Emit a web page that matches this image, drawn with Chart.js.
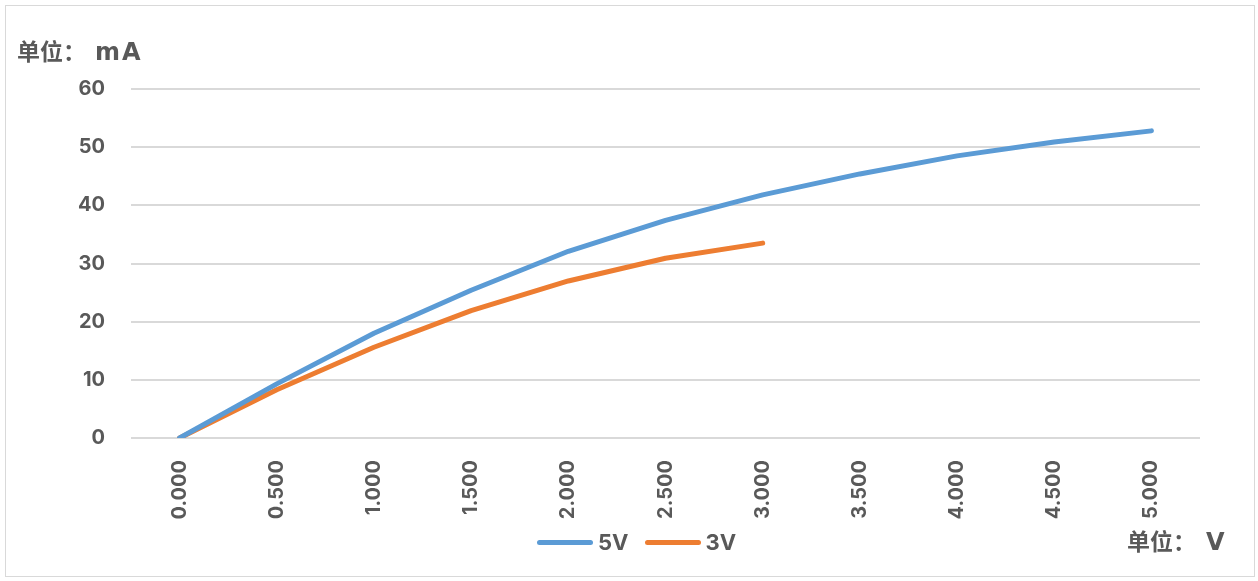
<!DOCTYPE html>
<html>
<head>
<meta charset="utf-8">
<script src="https://cdn.jsdelivr.net/npm/chart.js@4.4.1/dist/chart.umd.min.js"></script>
<style>
  body { margin: 0; background: #fff; }
  #wrap { position: relative; width: 1258px; height: 581px; font-family: Inter, "Noto Sans CJK SC", sans-serif; color: #595959; font-weight: bold; }
  #frame { position: absolute; left: 5px; top: 5px; width: 1250px; height: 572px; border: 1px solid #d9d9d9; box-sizing: border-box; }
  .unit { position: absolute; line-height: 26px; white-space: nowrap; display: flex; align-items: baseline; }
  .unit .cn { font-family: "Noto Sans CJK SC", sans-serif; font-size: 23px; font-weight: 700; }
  .unit .en { font-family: "DejaVu Sans", sans-serif; font-size: 24px; margin-left: 9px; letter-spacing: 2px; }
  #legend { position: absolute; top: 530px; left: 537px; display: flex; align-items: center; font-size: 22px; line-height: 24px; }
  #legend .item { display: flex; align-items: center; margin-right: 16px; }
  #legend .swatch { width: 56px; height: 5px; border-radius: 3px; margin-right: 5px; }
</style>
</head>
<body>
<div id="wrap">
  <div id="frame"></div>
  <canvas id="chart" width="1258" height="581"></canvas>
  <div class="unit" id="yUnit" style="left:17px; top:37px;"><span class="cn"></span><span class="en"></span></div>
  <div class="unit" id="xUnit" style="left:1127px; top:527px;"><span class="cn"></span><span class="en" style="margin-left:10px"></span></div>
  <div id="legend"></div>
</div>
<script>
let voltages = ["0.000", "0.500", "1.000", "1.500", "2.000", "2.500", "3.000", "3.500", "4.000", "4.500", "5.000"];
let current5V = [0, 9.3, 18.0, 25.4, 32.1, 37.4, 41.8, 45.4, 48.5, 50.9, 52.8];
let current3V = [0, 8.3, 15.6, 21.9, 27.0, 30.9, 33.5];
let yTicks = [0, 10, 20, 30, 40, 50, 60];
let seriesNames = ["5V", "3V"];
let seriesColors = ["#5b9bd5", "#ed7d31"];
let unitPrefix = "单位：";
let yUnit = "mA";
let xUnit = "V";

document.querySelector("#yUnit .cn").textContent = unitPrefix;
document.querySelector("#yUnit .en").textContent = yUnit;
document.querySelector("#xUnit .cn").textContent = unitPrefix;
document.querySelector("#xUnit .en").textContent = xUnit;

// legend built from the series
let legend = document.getElementById("legend");
seriesNames.forEach(function (name, i) {
  let item = document.createElement("div");
  item.className = "item";
  let sw = document.createElement("div");
  sw.className = "swatch";
  sw.style.background = seriesColors[i];
  let label = document.createElement("span");
  label.textContent = name;
  item.appendChild(sw);
  item.appendChild(label);
  legend.appendChild(item);
});

let tickFont = { family: 'Inter, "Noto Sans", sans-serif', size: 20, weight: "bold" };

new Chart(document.getElementById("chart"), {
  type: "line",
  data: {
    labels: voltages,
    datasets: [
      {
        label: seriesNames[0],
        data: current5V,
        borderColor: seriesColors[0],
        backgroundColor: seriesColors[0],
        borderWidth: 5,
        pointRadius: 0,
        borderCapStyle: "round",
        borderJoinStyle: "round",
        fill: false,
      },
      {
        label: seriesNames[1],
        data: current3V,
        borderColor: seriesColors[1],
        backgroundColor: seriesColors[1],
        borderWidth: 5,
        pointRadius: 0,
        borderCapStyle: "round",
        borderJoinStyle: "round",
        fill: false,
      },
    ],
  },
  options: {
    responsive: false,
    animation: false,
    layout: { padding: { top: 89, right: 58, left: 0, bottom: 0 } },
    plugins: {
      legend: { display: false },
      tooltip: { enabled: false },
    },
    scales: {
      x: {
        offset: true,
        grid: { display: false, drawTicks: false },
        border: { display: false },
        ticks: { color: "#595959", font: tickFont, minRotation: 90, maxRotation: 90, padding: 22, autoSkip: false },
        afterFit: function (scale) { scale.height = 143; },
      },
      y: {
        min: yTicks[0],
        max: yTicks[yTicks.length - 1],
        afterBuildTicks: function (scale) {
          scale.ticks = yTicks.map(function (v) { return { value: v }; });
        },
        grid: { color: "#d9d9d9", lineWidth: 2, drawTicks: false },
        border: { display: false },
        ticks: { color: "#595959", font: tickFont, padding: 26 },
        afterFit: function (scale) { scale.width = 131; },
      },
    },
  },
});
</script>
</body>
</html>
